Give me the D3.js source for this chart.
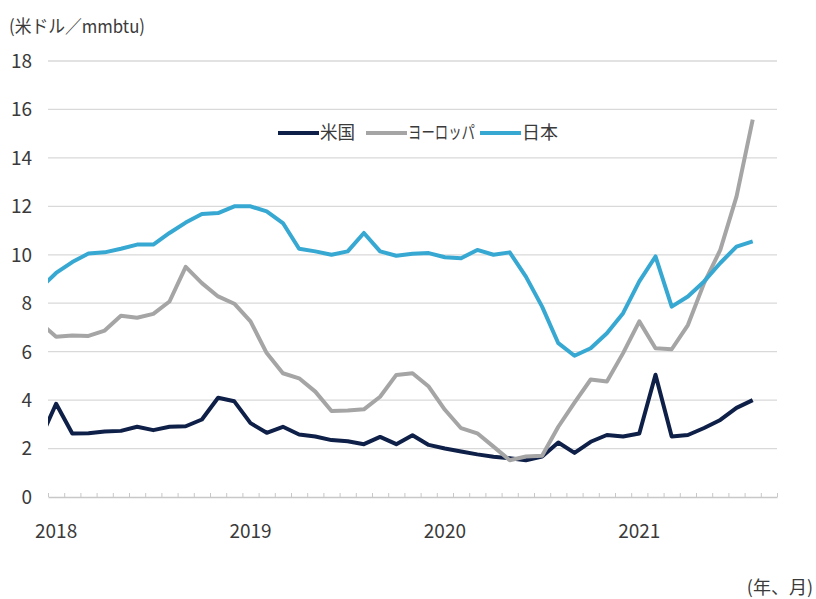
<!DOCTYPE html>
<html>
<head>
<meta charset="utf-8">
<script src="https://cdn.jsdelivr.net/npm/d3@7"></script>
<style>
  body { margin: 0; background: #fff; }
  text { font-family: "Noto Sans CJK JP", "Noto Sans", sans-serif; fill: #3a3a3a; }
</style>
</head>
<body>
<div id="chart"></div>
<script>
// months: first entry (Dec 2017) sits left of the plot and is clipped
const months = ['2017-12',
  '2018-01','2018-02','2018-03','2018-04','2018-05','2018-06','2018-07','2018-08','2018-09','2018-10','2018-11','2018-12',
  '2019-01','2019-02','2019-03','2019-04','2019-05','2019-06','2019-07','2019-08','2019-09','2019-10','2019-11','2019-12',
  '2020-01','2020-02','2020-03','2020-04','2020-05','2020-06','2020-07','2020-08','2020-09','2020-10','2020-11','2020-12',
  '2021-01','2021-02','2021-03','2021-04','2021-05','2021-06','2021-07','2021-08'];
const usValues = [2.35,
  3.85, 2.62, 2.63, 2.7, 2.73, 2.9, 2.76, 2.9, 2.92, 3.2, 4.1, 3.95,
  3.05, 2.65, 2.9, 2.58, 2.5, 2.35, 2.3, 2.18, 2.48, 2.18, 2.55, 2.15,
  2.0, 1.88, 1.76, 1.66, 1.6, 1.52, 1.67, 2.25, 1.82, 2.28, 2.56, 2.5,
  2.62, 5.05, 2.5, 2.56, 2.85, 3.18, 3.68, 4.0];
const europeValues = [7.2,
  6.62, 6.67, 6.65, 6.87, 7.48, 7.4, 7.56, 8.07, 9.5, 8.83, 8.28, 7.98,
  7.25, 5.94, 5.11, 4.9, 4.35, 3.55, 3.57, 3.62, 4.14, 5.04, 5.11, 4.56,
  3.6, 2.84, 2.63, 2.08, 1.52, 1.67, 1.7, 2.9, 3.9, 4.85, 4.77, 5.94,
  7.25, 6.14, 6.1, 7.1, 8.83, 10.2, 12.4, 15.58];
const japanValues = [8.6,
  9.25, 9.7, 10.05, 10.1, 10.25, 10.42, 10.42, 10.9, 11.33, 11.68, 11.72, 12.0,
  12.0, 11.79, 11.31, 10.25, 10.14, 10.0, 10.14, 10.9, 10.14, 9.96, 10.04, 10.07,
  9.9, 9.86, 10.2, 10.0, 10.1, 9.1, 7.86, 6.35, 5.83, 6.14, 6.76, 7.59,
  8.9, 9.93, 7.86, 8.28, 8.9, 9.66, 10.34, 10.55];
const yTicks = [0, 2, 4, 6, 8, 10, 12, 14, 16, 18];
const yearLabels = ['2018', '2019', '2020', '2021'];
const seriesNames = ['米国', 'ヨーロッパ', '日本'];

const w = 816, h = 599;
const plotLeft = 48, plotRight = 777, plotTop = 61, plotBottom = 497;
const nBands = 45; // Jan 2018 .. Sep 2021

const svg = d3.select('#chart').append('svg').attr('width', w).attr('height', h);

// x: month index, 0 = Jan 2018
const xScale = d3.scaleLinear().domain([-0.5, nBands - 0.5]).range([plotLeft, plotRight]);
const yScale = d3.scaleLinear().domain([0, 18]).range([plotBottom, plotTop]);

// grid
svg.append('g').selectAll('line')
  .data(yTicks.filter(d => d > 0))
  .enter().append('line')
  .attr('x1', plotLeft).attr('x2', plotRight)
  .attr('y1', d => yScale(d)).attr('y2', d => yScale(d))
  .attr('stroke', '#d9d9d9').attr('stroke-width', 1.3);

// y labels
svg.append('g').selectAll('text')
  .data(yTicks)
  .enter().append('text')
  .attr('x', 32).attr('y', d => yScale(d))
  .attr('dy', '0.36em')
  .attr('text-anchor', 'end')
  .style('font-size', '19px')
  .text(d => d);

// x axis with monthly ticks
const xAxis = d3.axisBottom(xScale)
  .tickValues(d3.range(nBands + 1).map(i => i - 0.5))
  .tickSizeInner(-4).tickSizeOuter(0)
  .tickFormat('');
const gx = svg.append('g').attr('transform', 'translate(0,' + plotBottom + ')').call(xAxis);
gx.select('.domain').attr('stroke', '#c8c8c8').attr('stroke-width', 1.3);
gx.selectAll('.tick line').attr('stroke', '#c8c8c8');

svg.append('g').selectAll('text')
  .data(yearLabels)
  .enter().append('text')
  .attr('x', (d, i) => xScale(i * 12))
  .attr('y', 531)
  .attr('dy', '0.36em')
  .attr('text-anchor', 'middle')
  .style('font-size', '19px')
  .text(d => d);

// lines
svg.append('clipPath').attr('id', 'plot-clip')
  .append('rect').attr('x', plotLeft).attr('y', 0).attr('width', plotRight - plotLeft).attr('height', h);

const line = d3.line().x((d, i) => xScale(i - 1)).y(d => yScale(d));
const series = [
  { name: seriesNames[0], values: usValues, color: '#0e1f48', textW: 35 },
  { name: seriesNames[1], values: europeValues, color: '#a5a5a5', textW: 67 },
  { name: seriesNames[2], values: japanValues, color: '#36a8d2', textW: 36 }
];
svg.append('g').attr('clip-path', 'url(#plot-clip)')
  .selectAll('path')
  .data(series)
  .enter().append('path')
  .attr('d', d => line(d.values))
  .attr('fill', 'none')
  .attr('stroke', d => d.color)
  .attr('stroke-width', 4)
  .attr('stroke-linejoin', 'round');

// legend
const legendX = [278, 366, 480];
const legend = svg.append('g').selectAll('g')
  .data(series)
  .enter().append('g')
  .attr('transform', (d, i) => 'translate(' + legendX[i] + ',133)');
legend.append('line')
  .attr('x1', 0).attr('x2', 41)
  .attr('stroke', d => d.color).attr('stroke-width', 4);
legend.append('text')
  .attr('x', 42).attr('dy', '0.36em')
  .attr('textLength', d => d.textW)
  .attr('lengthAdjust', 'spacingAndGlyphs')
  .style('font-size', '18px')
  .text(d => d.name);

// titles
svg.append('text').attr('x', 9).attr('y', 27).attr('dy', '0.36em')
  .attr('textLength', 136).attr('lengthAdjust', 'spacingAndGlyphs')
  .style('font-size', '18px').text('(米ドル／mmbtu)');
svg.append('text').attr('x', 813).attr('y', 588).attr('dy', '0.36em')
  .attr('text-anchor', 'end')
  .style('font-size', '18px').text('(年、月)');
</script>
</body>
</html>
